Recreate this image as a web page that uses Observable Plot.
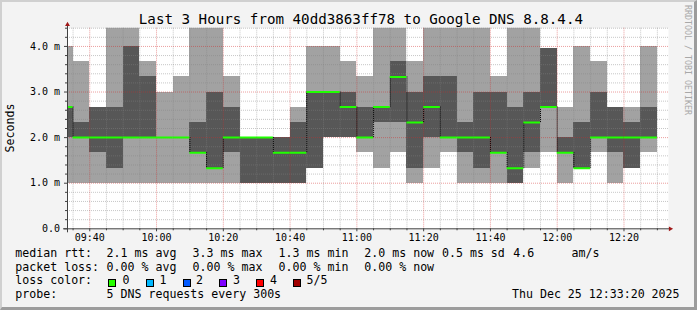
<!DOCTYPE html>
<html><head><meta charset="utf-8">
<script src="https://cdn.jsdelivr.net/npm/d3@7"></script>
<script src="https://cdn.jsdelivr.net/npm/@observablehq/plot@0.6"></script>
<style>
html,body{margin:0;padding:0;background:#fff;}
#chart{position:relative;width:697px;height:310px;background:#f3f3f3;overflow:hidden;font-family:'DejaVu Sans Mono',monospace;color:#000;}
#chart svg{position:absolute;left:0;top:0;}
.t{position:absolute;white-space:pre;line-height:1;}
.box{position:absolute;width:8px;height:8px;box-sizing:border-box;border:1px solid #000;}
#frame{position:absolute;left:0;top:0;width:697px;height:310px;box-sizing:border-box;border-top:2px solid #d0d0d0;border-left:2px solid #d0d0d0;border-right:3px solid #9c9c9c;border-bottom:3px solid #9c9c9c;pointer-events:none;}
</style></head><body><div id="chart"></div>
<script>
// ---- data ----
const slotStarts = ["09:30","09:35","09:40","09:45","09:50","09:55","10:00","10:05","10:10","10:15","10:20","10:25",
  "10:30","10:35","10:40","10:45","10:50","10:55","11:00","11:05","11:10","11:15","11:20","11:25",
  "11:30","11:35","11:40","11:45","11:50","11:55","12:00","12:05","12:10","12:15","12:20","12:25"];
const pingMin    = [1.0,1.0,1.0,1.0,1.0,1.0,1.0,1.0,1.0,1.0,1.0,1.0, 1.0,1.0,1.0,1.33,2.0,2.0,1.67,1.33,1.67,1.0,1.33,1.67, 1.0,1.0,1.0,1.0,1.33,1.67,1.0,1.33,1.67,1.0,1.33,1.67];
const ping2      = [2.0,2.0,1.67,1.33,2.0,2.0,2.0,2.0,1.67,1.33,1.67,1.0, 1.0,1.0,1.0,1.33,2.0,2.0,2.0,2.33,2.33,1.33,2.0,2.0, 1.67,1.33,1.67,1.0,1.67,2.67,1.67,1.33,2.0,1.67,1.33,2.0];
const pingMedian = [2.67,2.0,2.0,2.0,2.0,2.0,2.0,2.0,1.67,1.33,2.0,2.0, 2.0,1.67,1.67,3.0,3.0,2.67,2.0,2.67,3.33,2.33,2.67,2.0, 2.0,2.0,1.67,1.33,2.33,2.67,1.67,1.33,2.0,2.0,2.0,2.0];
const ping4      = [2.67,2.33,2.67,2.67,4.0,3.33,2.0,2.0,2.33,3.0,2.67,2.0, 2.0,2.0,2.33,3.0,3.0,3.0,2.67,2.67,3.67,3.0,3.33,3.33, 2.33,3.0,3.0,2.67,3.0,3.95,2.0,2.33,3.0,2.67,2.33,2.67];
const pingMax    = [4.0,3.67,2.67,4.67,4.67,3.67,3.0,3.33,4.67,4.67,3.33,2.0, 2.0,2.0,2.67,4.0,4.0,3.67,3.33,4.67,4.67,3.67,4.67,4.67, 4.67,4.67,3.33,4.67,4.67,3.95,2.67,4.0,3.67,2.67,2.67,4.0];
const domainStart = "09:33:20";
const domainEnd = "12:33:20";
const xTickLabels = ["09:40","10:00","10:20","10:40","11:00","11:20","11:40","12:00","12:20"];
const yTickValues = [0,1,2,3,4];
const yTickLabels = ["0.0","1.0 m","2.0 m","3.0 m","4.0 m"];
const titleText = "Last 3 Hours from 40dd3863ff78 to Google DNS 8.8.4.4";
const yLabel = "Seconds";
const medianRow = ["median rtt:","2.1 ms avg","3.3 ms max","1.3 ms min","2.0 ms now","0.5 ms sd","4.6","am/s"];
const lossRow = ["packet loss:","0.00 % avg","0.00 % max","0.00 % min","0.00 % now"];
const lossLabels = ["0","1","2","3","4","5/5"];
const lossColors = ["#26ff00","#00b8ff","#0059ff","#7e00ff","#ff0000","#a10000"];
const probeRow = ["probe:","5 DNS requests every 300s"];
const stampText = "Thu Dec 25 12:33:20 2025";
const watermark = "RRDTOOL / TOBI OETIKER";

// ---- build ----
const T = s => { const [h,m,sec] = s.split(":").map(Number); return new Date(Date.UTC(2025,11,25,h,m,sec||0)); };
const rows = slotStarts.map((s,i)=>({start:T(s), end:new Date(+T(s)+300000), p1:pingMin[i], p2:ping2[i], med:pingMedian[i], p4:ping4[i], p5:pingMax[i]}));
const steps = rows.slice(1).map((r,i)=>({x:r.start, y1:rows[i].med, y2:r.med})).filter(d=>d.y1!==d.y2);
const x0 = T(domainStart), x1 = T(domainEnd);
const majorTimes = xTickLabels.map(T);
const minorTimes = d3.utcMinute.every(5).range(x0, x1).filter(d => !majorTimes.some(m => +m === +d));
const yMinor = d3.range(1, 23).map(i => i*0.2).filter(v => Math.abs(v - Math.round(v)) > 1e-6);
const yMajorGrid = yTickValues.filter(v => v > 0);

const light = "#a2a2a2", dark = "#575757", green = "#20ff00";
const minorGrid = "rgba(130,130,130,0.45)", majorGrid = "rgba(210,40,40,0.45)";
const axisColor = "#404040", arrowColor = "#a01818";

const svg = Plot.plot({
  width: 697, height: 310,
  marginLeft: 67, marginRight: 29, marginTop: 27.7, marginBottom: 81.7,
  x: {type: "utc", domain: [x0, x1], label: null},
  y: {domain: [0, 4.4], label: null},
  style: {fontFamily: "'DejaVu Sans Mono', monospace", fontSize: "10px", background: "transparent", color: "#000", overflow: "visible"},
  marks: [
    Plot.frame({fill: "#fff", stroke: null}),
    Plot.rect(rows, {x1: "start", x2: "end", y1: "p1", y2: "p5", fill: light, clip: true, shapeRendering: "crispEdges"}),
    Plot.rect(rows, {x1: "start", x2: "end", y1: "p2", y2: "p4", fill: dark, clip: true, shapeRendering: "crispEdges"}),
    Plot.ruleX(minorTimes, {stroke: minorGrid, strokeDasharray: "1,1"}),
    Plot.ruleY(yMinor, {stroke: minorGrid, strokeDasharray: "1,1"}),
    Plot.ruleX(majorTimes, {stroke: majorGrid, strokeDasharray: "1,1"}),
    Plot.ruleY(yMajorGrid, {stroke: majorGrid, strokeDasharray: "1,1"}),
    Plot.ruleX(steps, {x: "x", y1: "y1", y2: "y2", stroke: "#000", strokeDasharray: "1,1", clip: true}),
    Plot.ruleY(rows, {y: "med", x1: "start", x2: "end", stroke: green, strokeWidth: 2, clip: true}),
    Plot.axisX(minorTimes, {tickSize: 2, tickFormat: () => "", label: null, stroke: axisColor}),
    Plot.axisX(majorTimes, {tickSize: 3, tickPadding: 2, tickFormat: d3.utcFormat("%H:%M"), label: null, stroke: axisColor, fill: "#000"}),
    Plot.axisY(yMinor, {tickSize: 2, tickFormat: () => "", label: null, stroke: axisColor}),
    Plot.axisY(yTickValues, {tickSize: 3, tickPadding: 4.5, tickFormat: d => yTickLabels[yTickValues.indexOf(d)], label: null, stroke: axisColor, fill: "#000"}),
    Plot.ruleY([0], {stroke: axisColor, insetLeft: -4, insetRight: -1}),
    Plot.ruleX([x0], {stroke: axisColor, insetTop: -2, insetBottom: -4}),
    Plot.dot([{x: x1, y: 0}], {x: "x", y: "y", symbol: "triangle", rotate: 90, r: 1.8, fill: arrowColor, stroke: null, dx: 1.8}),
    Plot.dot([{x: x0, y: 4.4}], {x: "x", y: "y", symbol: "triangle", r: 1.8, fill: arrowColor, stroke: null, dy: -3.6})
  ]
});
const chart = document.getElementById("chart");
chart.appendChild(svg);

function addText(txt, left, baseline, size, extra) {
  const d = document.createElement("div");
  d.className = "t";
  d.textContent = txt;
  d.style.fontSize = size + "px";
  d.style.left = left + "px";
  d.style.top = (baseline - 0.846 * size) + "px";
  if (extra) Object.assign(d.style, extra);
  chart.appendChild(d);
  return d;
}
addText(titleText, 138.8, 24, 14.2);
const fs = 11.6;
const medX = [16,107.3,193.3,279.3,365,442.7,514,572.3];
medianRow.forEach((s,i) => addText(s, medX[i]-0.7, 257.7, fs));
const lossX = [16,107.3,193.3,279.3,365];
lossRow.forEach((s,i) => addText(s, lossX[i]-0.7, 271.4, fs));
addText("loss color:", 15.3, 285.1, fs);
const boxX = [108.3,145.7,182.7,219.3,256,293.3];
const labX = [123.3,160.3,196.7,233.7,270.7,307.3];
lossLabels.forEach((s,i) => {
  const b = document.createElement("div");
  b.className = "box";
  b.style.left = boxX[i] + "px";
  b.style.top = "279px";
  b.style.background = lossColors[i];
  chart.appendChild(b);
  addText(s, labX[i]-0.7, 285.1, fs);
});
addText(probeRow[0], 15.3, 298.8, fs);
addText(probeRow[1], 106.6, 298.8, fs);
addText(stampText, 512, 298.8, fs);

const yl = document.createElement("div");
yl.className = "t"; yl.textContent = yLabel;
Object.assign(yl.style, {fontSize: fs + "px", left: "11px", top: "128px", transform: "translate(-50%,-50%) rotate(-90deg)"});
chart.appendChild(yl);
const wm = document.createElement("div");
wm.className = "t"; wm.textContent = watermark;
Object.assign(wm.style, {fontSize: "8.3px", color: "#a8a8a8", left: "687.5px", top: "60px", transform: "translate(-50%,-50%) rotate(90deg)"});
chart.appendChild(wm);
const fr = document.createElement("div"); fr.id = "frame"; chart.appendChild(fr);
</script></body></html>
